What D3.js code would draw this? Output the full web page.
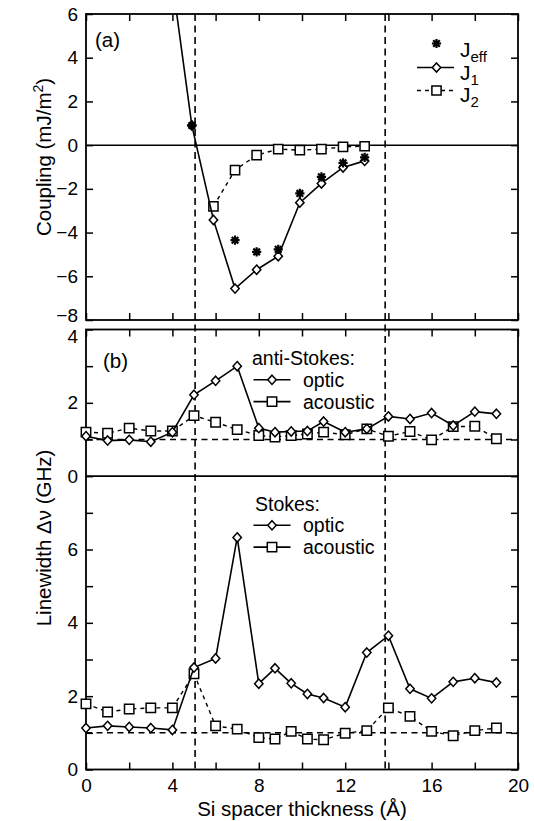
<!DOCTYPE html>
<html>
<head>
<meta charset="utf-8">
<script src="https://cdn.jsdelivr.net/npm/d3@7"></script>
<style>
  body { margin: 0; background: #fff; }
  svg { display: block; font-family: "Liberation Sans", Arial, Helvetica, sans-serif; }
</style>
</head>
<body>
<script>
// panel (a): coupling vs Si spacer thickness
const j1X = [3.9, 4.9, 5.9, 6.9, 7.9, 8.9, 9.9, 10.9, 11.9, 12.9];
const j1 = [8.2, 0.9, -3.42, -6.56, -5.7, -5.08, -2.63, -1.75, -1.02, -0.72];
const jEffX = [4.9, 6.9, 7.9, 8.9, 9.9, 10.9, 11.9, 12.9];
const jEff = [0.9, -4.35, -4.88, -4.77, -2.21, -1.45, -0.81, -0.56];
const j2X = [5.9, 6.9, 7.9, 8.9, 9.9, 10.9, 11.9, 12.9];
const j2 = [-2.8, -1.14, -0.46, -0.18, -0.23, -0.18, -0.08, -0.05];

// panel (b): linewidths
const thickness = [0, 1, 2, 3, 4, 5, 6, 7, 8, 8.75, 9.5, 10.25, 11, 12, 13, 14, 15, 16, 17, 18, 19];
const antiOptic = [1.09, 0.97, 0.99, 0.94, 1.2, 2.22, 2.6, 3.0, 1.31, 1.2, 1.22, 1.23, 1.49, 1.2, 1.29, 1.63, 1.56, 1.72, 1.38, 1.76, 1.7];
const antiAcoustic = [1.2, 1.17, 1.31, 1.23, 1.23, 1.65, 1.47, 1.27, 1.11, 1.07, 1.11, 1.15, 1.2, 1.13, 1.29, 1.09, 1.22, 0.99, 1.35, 1.36, 1.02];
const stokesOptic = [1.13, 1.19, 1.16, 1.13, 1.08, 2.78, 3.03, 6.33, 2.34, 2.76, 2.35, 2.06, 1.95, 1.7, 3.19, 3.65, 2.2, 1.94, 2.39, 2.49, 2.37];
const stokesAcoustic = [1.79, 1.57, 1.65, 1.68, 1.68, 2.61, 1.19, 1.1, 0.87, 0.83, 1.04, 0.83, 0.81, 0.99, 1.06, 1.68, 1.45, 1.04, 0.92, 1.06, 1.13];

const refX = [5.05, 13.85];
const xTicks = [0, 2, 4, 6, 8, 10, 12, 14, 16, 18, 20];
const topTicks = [-8, -6, -4, -2, 0, 2, 4, 6];
const stokesTicks = [0, 1, 2, 3, 4, 5, 6, 7];
const antiTicks = [0, 1, 2, 3, 4];

const width = 534;
const height = 821;
const left = 86, right = 518;
const aTop = 14, aBot = 320;
const bTop = 329.5, bBot = 769.5;
const unit = (bBot - bTop) / 12;

const x = d3.scaleLinear().domain([0, 20]).range([left, right]);
const yA = d3.scaleLinear().domain([-8, 6]).range([aBot, aTop]);
const yS = d3.scaleLinear().domain([0, 8]).range([bBot, bBot - 8 * unit]);
const yAS = d3.scaleLinear().domain([0, 4]).range([bBot - 8 * unit, bTop]);

const svg = d3.select("body").append("svg")
  .attr("width", width)
  .attr("height", height);

svg.append("rect").attr("width", width).attr("height", height).attr("fill", "#fff");

svg.append("clipPath").attr("id", "clipA")
  .append("rect").attr("x", left).attr("y", aTop).attr("width", right - left).attr("height", aBot - aTop);

const diamond = (r) => `M0,${-r * 1.1}L${r},0L0,${r * 1.1}L${-r},0Z`;
const sq = (s) => `M${-s},${-s}H${s}V${s}H${-s}Z`;
const asterisk = (r) => {
  const d = r * 0.72;
  return `M${-r},0H${r}M0,${-r}V${r}M${-d},${-d}L${d},${d}M${-d},${d}L${d},${-d}`;
};

const styleAxis = (g, size) => {
  g.select(".domain").remove();
  g.attr("font-family", null).attr("font-size", size);
  g.selectAll("line").attr("stroke", "#000").attr("stroke-width", 1.5);
  g.selectAll("text").attr("fill", "#000");
};

// ---------- axes / ticks ----------
const everyOther = (d) => (d % 2 === 0 ? d : "");

svg.append("g").attr("transform", `translate(${left},0)`)
  .call(d3.axisLeft(yA).tickValues(topTicks).tickSize(-7).tickPadding(8))
  .call((g) => styleAxis(g, 19))
  .call((g) => g.selectAll(".tick text").filter((d) => d === -8).attr("dy", "0.1em"));
svg.append("g").attr("transform", `translate(${right},0)`)
  .call(d3.axisRight(yA).tickValues(topTicks).tickSize(-7).tickFormat(""))
  .call((g) => styleAxis(g, 19));
svg.append("g").attr("transform", `translate(0,${aTop})`)
  .call(d3.axisTop(x).tickValues(xTicks).tickSize(-7).tickFormat(""))
  .call((g) => styleAxis(g, 19));
svg.append("g").attr("transform", `translate(0,${aBot})`)
  .call(d3.axisBottom(x).tickValues(xTicks).tickSize(-7).tickFormat(""))
  .call((g) => styleAxis(g, 19));

svg.append("g").attr("transform", `translate(${left},0)`)
  .call(d3.axisLeft(yS).tickValues(stokesTicks).tickSize(-7).tickPadding(8).tickFormat(everyOther))
  .call((g) => styleAxis(g, 19));
svg.append("g").attr("transform", `translate(${left},0)`)
  .call(d3.axisLeft(yAS).tickValues(antiTicks).tickSize(-7).tickPadding(8).tickFormat(everyOther))
  .call((g) => styleAxis(g, 19))
  .call((g) => g.selectAll(".tick text").filter((d) => d === 4).attr("dy", "0.68em"));
svg.append("g").attr("transform", `translate(${right},0)`)
  .call(d3.axisRight(yS).tickValues(stokesTicks).tickSize(-7).tickFormat(""))
  .call((g) => styleAxis(g, 19));
svg.append("g").attr("transform", `translate(${right},0)`)
  .call(d3.axisRight(yAS).tickValues(antiTicks).tickSize(-7).tickFormat(""))
  .call((g) => styleAxis(g, 19));
svg.append("g").attr("transform", `translate(0,${bTop})`)
  .call(d3.axisTop(x).tickValues(xTicks).tickSize(-7).tickFormat(""))
  .call((g) => styleAxis(g, 19));
svg.append("g").attr("transform", `translate(0,${bBot})`)
  .call(d3.axisBottom(x).tickValues(xTicks).tickSize(-7).tickPadding(9.5)
    .tickFormat((d) => (d % 4 === 0 ? d : "")))
  .call((g) => styleAxis(g, 19));

// frames
[[aTop, aBot], [bTop, bBot]].forEach(([t, b]) => {
  svg.append("rect")
    .attr("x", left).attr("y", t)
    .attr("width", right - left).attr("height", b - t)
    .attr("fill", "none").attr("stroke", "#000").attr("stroke-width", 1.8);
});

// zero lines
svg.append("line")
  .attr("x1", left).attr("x2", right)
  .attr("y1", yA(0)).attr("y2", yA(0))
  .attr("stroke", "#000").attr("stroke-width", 1.5);
svg.append("line")
  .attr("x1", left).attr("x2", right)
  .attr("y1", yAS(0)).attr("y2", yAS(0))
  .attr("stroke", "#000").attr("stroke-width", 1.8);

// dashed reference lines
svg.selectAll(".vref").data(refX).enter().append("line")
  .attr("x1", (d) => x(d)).attr("x2", (d) => x(d))
  .attr("y1", aTop).attr("y2", bBot)
  .attr("stroke", "#000").attr("stroke-width", 1.6)
  .attr("stroke-dasharray", "7,4.5");
[yAS(1), yS(1)].forEach((yy) => {
  svg.append("line")
    .attr("x1", left).attr("x2", right)
    .attr("y1", yy).attr("y2", yy)
    .attr("stroke", "#000").attr("stroke-width", 1.5)
    .attr("stroke-dasharray", "6,4.5");
});

// ---------- series ----------
const drawSeries = (xs, ys, yScale, opts) => {
  const pts = xs.map((d, i) => [x(d), yScale(ys[i])]);
  const g = svg.append("g");
  if (opts.clip) g.attr("clip-path", "url(#clipA)");
  if (opts.line) {
    g.append("path")
      .attr("d", d3.line()(pts))
      .attr("fill", "none").attr("stroke", "#000")
      .attr("stroke-width", opts.dash ? 1.4 : 1.6)
      .attr("stroke-dasharray", opts.dash || null);
  }
  g.selectAll(".m").data(pts).enter().append("path")
    .attr("transform", (d) => `translate(${d[0]},${d[1]})`)
    .attr("d", opts.shape)
    .attr("fill", opts.fill)
    .attr("stroke", "#000")
    .attr("stroke-width", opts.sw);
};

drawSeries(j2X, j2, yA, { line: true, dash: "4,4", shape: sq(4.6), fill: "#fff", sw: 1.5, clip: true });
drawSeries(j1X, j1, yA, { line: true, shape: diamond(4.2), fill: "#fff", sw: 1.5, clip: true });
drawSeries(jEffX, jEff, yA, { line: false, shape: asterisk(4.6), fill: "none", sw: 2.2, clip: true });

drawSeries(thickness, antiAcoustic, yAS, { line: true, dash: "4,4", shape: sq(4.7), fill: "#fff", sw: 1.5 });
drawSeries(thickness, antiOptic, yAS, { line: true, shape: diamond(4.2), fill: "#fff", sw: 1.5 });
drawSeries(thickness, stokesAcoustic, yS, { line: true, dash: "4,4", shape: sq(4.7), fill: "#fff", sw: 1.5 });
drawSeries(thickness, stokesOptic, yS, { line: true, shape: diamond(4.2), fill: "#fff", sw: 1.5 });

// ---------- text ----------
const label = (tx, ty, s, size, anchor) =>
  svg.append("text").attr("x", tx).attr("y", ty)
    .attr("font-size", size).attr("text-anchor", anchor || "start")
    .attr("fill", "#000").text(s);

label(95, 47, "(a)", 20.5);
label(103, 368, "(b)", 20.5);

// panel (a) legend
const legA = [
  { name: "J", sub: "eff", y: 56.5, shape: asterisk(4.6), fill: "none", sw: 2.2, line: false, my: 43.5 },
  { name: "J", sub: "1", y: 79.5, shape: diamond(4.2), fill: "#fff", sw: 1.5, line: true, my: 67.5 },
  { name: "J", sub: "2", y: 101.5, shape: sq(4.6), fill: "#fff", sw: 1.5, line: true, dash: "4,4", my: 90.5 }
];
legA.forEach((d) => {
  if (d.line) {
    svg.append("line").attr("x1", 417).attr("x2", 454).attr("y1", d.my).attr("y2", d.my)
      .attr("stroke", "#000").attr("stroke-width", d.dash ? 1.4 : 1.6)
      .attr("stroke-dasharray", d.dash || null);
  }
  svg.append("path").attr("transform", `translate(436.5,${d.my})`).attr("d", d.shape)
    .attr("fill", d.fill).attr("stroke", "#000").attr("stroke-width", d.sw);
  const t = label(460, d.y, d.name, 21);
  t.append("tspan").attr("font-size", 15).attr("dy", 5).text(d.sub);
});

// panel (b) legends
const legB = (tx, ty, title) => {
  label(tx, ty, title, 19.5);
  [["optic", diamond(4.2)], ["acoustic", sq(4.7)]].forEach(([name, shape], i) => {
    const by = ty + 21.8 + i * 21.8;
    const ly = by - 7;
    svg.append("line").attr("x1", 253.5).attr("x2", 290.5).attr("y1", ly).attr("y2", ly)
      .attr("stroke", "#000").attr("stroke-width", 1.6);
    svg.append("path").attr("transform", `translate(272,${ly})`).attr("d", shape)
      .attr("fill", "#fff").attr("stroke", "#000").attr("stroke-width", 1.5);
    label(303, by, name, 19.5);
  });
};
legB(252, 365, "anti-Stokes:");
legB(255, 510.5, "Stokes:");

// axis titles
const yTitleA = svg.append("text")
  .attr("transform", "translate(51,157) rotate(-90)")
  .attr("text-anchor", "middle").attr("font-size", 20.5).attr("fill", "#000")
  .text("Coupling (mJ/m");
yTitleA.append("tspan").attr("font-size", 14).attr("dy", -8).text("2");
yTitleA.append("tspan").attr("dy", 8).text(")");

svg.append("text")
  .attr("transform", "translate(51,538) rotate(-90)")
  .attr("text-anchor", "middle").attr("font-size", 20.5).attr("fill", "#000")
  .text("Linewidth \u0394\u03bd (GHz)");

label((left + right) / 2, 815.5, "Si spacer thickness (\u00c5)", 20.5, "middle");
</script>
</body>
</html>
